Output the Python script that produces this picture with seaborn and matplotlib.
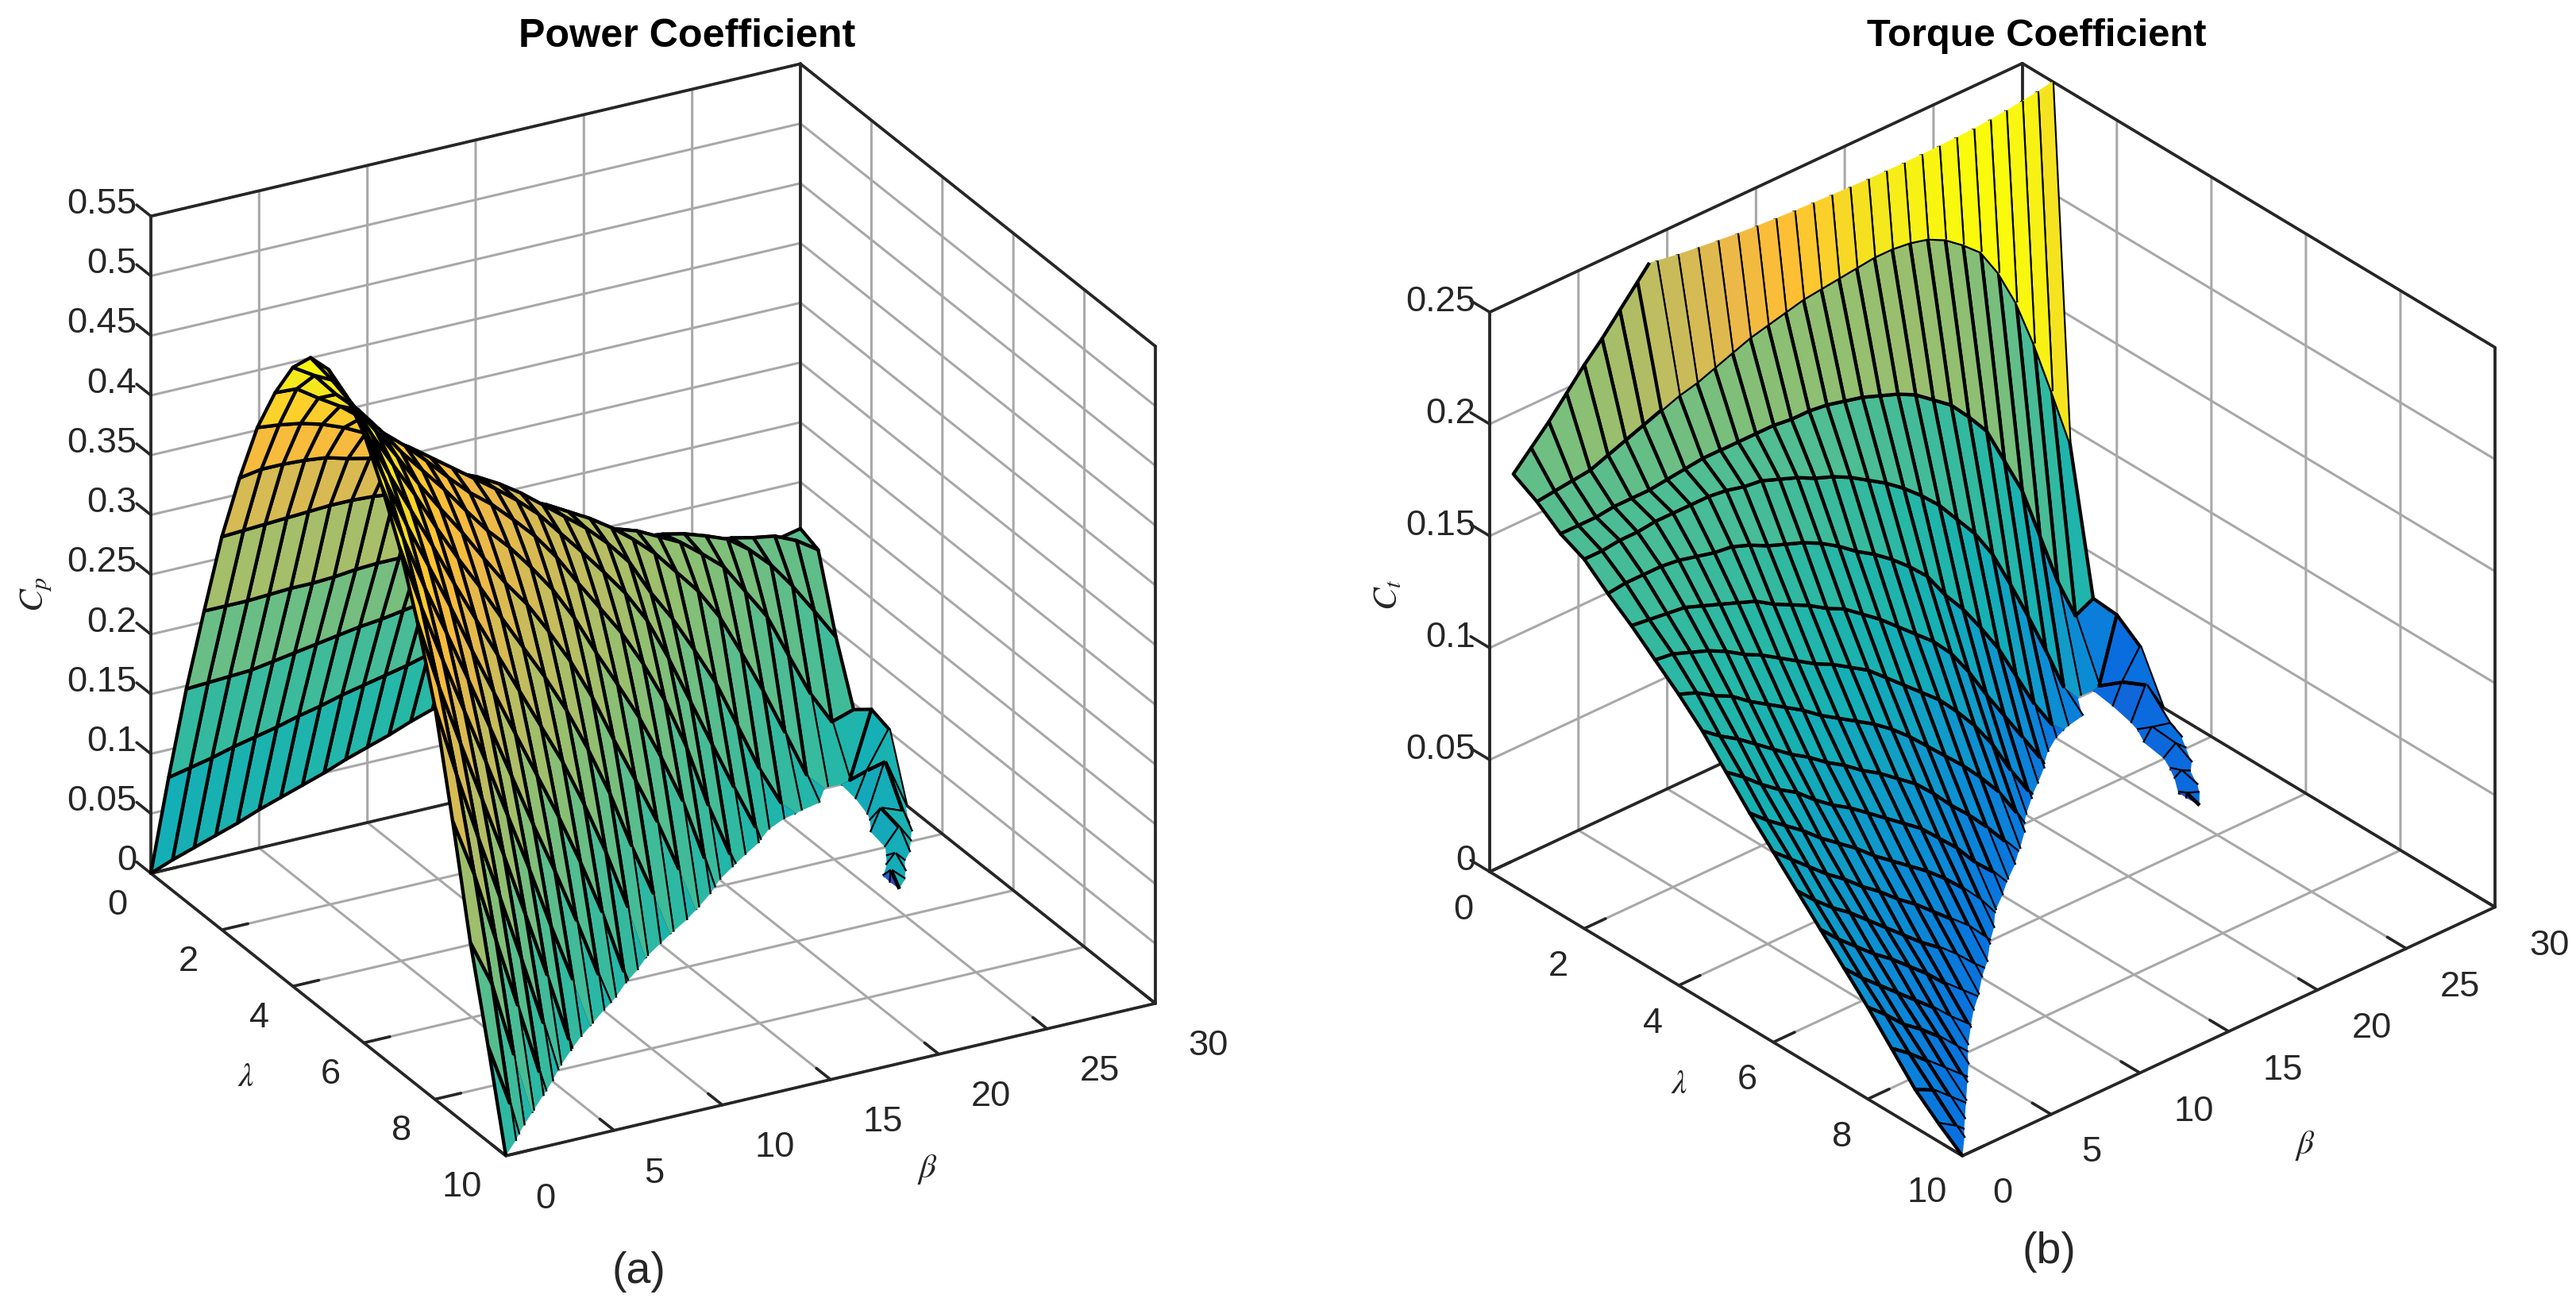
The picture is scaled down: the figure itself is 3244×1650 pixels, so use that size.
import numpy as np
import matplotlib
matplotlib.use("Agg")
import matplotlib.pyplot as plt
import seaborn as sns
from mpl_toolkits.mplot3d import proj3d
from mpl_toolkits.mplot3d.art3d import Poly3DCollection

beta = list(range(31))
lam_cp = [i * 0.5 for i in range(21)]
lam_ct = lam_cp[1:]

# Power coefficient, one list per beta, lambda = 0, 0.5 ... 10
cp_b00 = [0,.092,.178,.255,.329,.39,.444,.485,.518,.538,.54,.53,.51,.478,.439,.389,.329,.245,.155,.08,0]
cp_b01 = [.007,.096,.179,.255,.33,.393,.442,.484,.507,.515,.509,.492,.466,.43,.385,.33,.268,.196,.116,.028,-.06]
cp_b02 = [.013,.1,.18,.255,.331,.393,.439,.472,.487,.489,.477,.455,.424,.384,.336,.278,.211,.137,.053,-.04,-.13]
cp_b03 = [.019,.105,.181,.256,.332,.392,.434,.461,.47,.464,.447,.421,.386,.342,.289,.227,.157,.078,-.01,-.1,-.19]
cp_b04 = [.025,.109,.184,.257,.333,.39,.427,.447,.449,.438,.418,.387,.348,.299,.242,.176,.101,.018,-.07,-.16,-.25]
cp_b05 = [.032,.113,.187,.257,.334,.385,.418,.43,.426,.411,.386,.351,.307,.255,.193,.122,.043,-.04,-.13,-.22,-.3]
cp_b06 = [.038,.118,.19,.258,.334,.381,.409,.415,.406,.386,.356,.317,.268,.21,.144,.067,-.02,-.11,-.2,-.28,-.36]
cp_b07 = [.044,.122,.193,.26,.333,.377,.398,.398,.386,.362,.328,.283,.229,.165,.092,.009,-.08,-.17,-.26,-.34,-.42]
cp_b08 = [.05,.127,.196,.261,.331,.37,.385,.38,.364,.336,.298,.249,.19,.122,.043,-.05,-.14,-.23,-.31,-.39,-.47]
cp_b09 = [.057,.131,.198,.261,.328,.359,.372,.363,.343,.311,.269,.215,.151,.076,-.01,-.1,-.19,-.28,-.36,-.44,-.51]
cp_b10 = [.063,.135,.201,.261,.325,.352,.359,.349,.325,.289,.24,.181,.109,.027,-.06,-.15,-.24,-.33,-.41,-.49,-.56]
cp_b11 = [.069,.139,.204,.261,.32,.344,.346,.332,.304,.262,.208,.141,.063,-.02,-.12,-.21,-.3,-.38,-.46,-.54,-.61]
cp_b12 = [.076,.144,.207,.261,.314,.334,.332,.314,.281,.233,.171,.097,.009,-.08,-.18,-.27,-.35,-.43,-.51,-.58,-.65]
cp_b13 = [.082,.148,.209,.26,.306,.322,.316,.292,.253,.199,.13,.047,-.04,-.14,-.23,-.32,-.4,-.48,-.55,-.62,-.68]
cp_b14 = [.087,.152,.211,.26,.3,.308,.296,.266,.22,.159,.082,-.01,-.11,-.2,-.29,-.37,-.45,-.52,-.59,-.65,-.71]
cp_b15 = [.092,.155,.213,.258,.292,.294,.276,.241,.189,.121,.038,-.06,-.15,-.24,-.33,-.41,-.48,-.55,-.62,-.68,-.74]
cp_b16 = [.097,.159,.214,.255,.282,.28,.255,.216,.157,.082,-.01,-.1,-.19,-.28,-.36,-.44,-.51,-.58,-.64,-.7,-.76]
cp_b17 = [.102,.163,.215,.252,.272,.263,.233,.186,.12,.038,-.05,-.14,-.23,-.31,-.39,-.47,-.54,-.6,-.66,-.72,-.77]
cp_b18 = [.107,.166,.216,.248,.26,.243,.206,.151,.079,-.01,-.1,-.18,-.26,-.34,-.42,-.49,-.56,-.62,-.68,-.73,-.78]
cp_b19 = [.113,.17,.217,.243,.246,.213,.17,.108,.027,-.06,-.15,-.23,-.31,-.38,-.45,-.52,-.58,-.64,-.7,-.75,-.79]
cp_b20 = [.118,.172,.217,.237,.23,.187,.13,.055,-.03,-.12,-.2,-.27,-.34,-.41,-.48,-.54,-.6,-.66,-.71,-.76,-.8]
cp_b21 = [.122,.175,.216,.228,.21,.157,.09,.01,-.07,-.15,-.23,-.3,-.37,-.44,-.5,-.56,-.62,-.67,-.72,-.77,-.81]
cp_b22 = [.127,.177,.214,.219,.19,.125,.05,-.03,-.11,-.19,-.26,-.33,-.4,-.46,-.52,-.58,-.64,-.69,-.74,-.78,-.82]
cp_b23 = [.131,.179,.21,.205,.164,.085,.012,-.07,-.15,-.22,-.29,-.36,-.42,-.48,-.54,-.6,-.65,-.7,-.75,-.79,-.83]
cp_b24 = [.136,.181,.204,.19,.13,.045,-.04,-.11,-.19,-.26,-.32,-.38,-.44,-.5,-.56,-.61,-.66,-.71,-.76,-.8,-.84]
cp_b25 = [.14,.183,.197,.165,.094,.012,-.07,-.14,-.2,-.26,-.32,-.38,-.44,-.5,-.55,-.6,-.65,-.7,-.75,-.8,-.84]
cp_b26 = [.145,.182,.184,.14,.055,-.005,-.06,-.07,-.05,-.012,.01,-.012,-.06,-.12,-.2,-.3,-.4,-.5,-.6,-.7,-.8]
cp_b27 = [.149,.178,.167,.103,.015,-.006,-.03,-.02,-.008,.008,-.006,-.03,-.08,-.14,-.22,-.3,-.4,-.5,-.6,-.7,-.8]
cp_b28 = [.153,.175,.145,.067,-.003,-.02,-.01,.018,.014,-.01,-.03,-.06,-.1,-.16,-.24,-.32,-.42,-.52,-.62,-.72,-.82]
cp_b29 = [.157,.167,.12,.039,.002,.022,.041,.011,-.012,-.03,-.05,-.08,-.12,-.18,-.26,-.34,-.44,-.54,-.64,-.74,-.84]
cp_b30 = [.161,.155,.094,.045,.057,.052,-.002,-.03,-.05,-.07,-.09,-.12,-.16,-.2,-.28,-.36,-.46,-.56,-.66,-.76,-.86]

# Torque coefficient, one list per beta, lambda = 0.5 ... 10
ct_b00 = [.184,.178,.17,.165,.156,.148,.139,.13,.12,.108,.096,.085,.074,.063,.052,.041,.029,.017,.008,0]
ct_b01 = [.192,.179,.17,.165,.157,.147,.138,.127,.114,.102,.089,.078,.066,.055,.044,.034,.023,.013,.003,-.006]
ct_b02 = [.2,.18,.17,.166,.157,.146,.135,.122,.109,.095,.083,.071,.059,.048,.037,.026,.016,.006,-.004,-.013]
ct_b03 = [.209,.181,.171,.166,.157,.145,.132,.118,.103,.089,.077,.064,.053,.041,.03,.02,.009,-.001,-.011,-.019]
ct_b04 = [.218,.184,.171,.167,.156,.142,.128,.112,.097,.084,.07,.058,.046,.035,.023,.013,.002,-.008,-.017,-.025]
ct_b05 = [.226,.187,.171,.167,.154,.139,.123,.107,.091,.077,.064,.051,.039,.028,.016,.005,-.005,-.014,-.023,-.03]
ct_b06 = [.235,.19,.172,.167,.152,.136,.119,.102,.086,.071,.058,.045,.032,.021,.008,-.003,-.013,-.022,-.029,-.036]
ct_b07 = [.244,.193,.173,.167,.151,.133,.114,.097,.08,.066,.051,.038,.025,.013,.001,-.01,-.02,-.029,-.036,-.042]
ct_b08 = [.253,.196,.174,.166,.148,.128,.109,.091,.075,.06,.045,.032,.019,.006,-.007,-.018,-.027,-.034,-.041,-.047]
ct_b09 = [.262,.198,.174,.164,.144,.124,.104,.086,.069,.054,.039,.025,.012,-.001,-.013,-.024,-.033,-.04,-.046,-.051]
ct_b10 = [.27,.201,.174,.163,.141,.12,.1,.081,.064,.048,.033,.018,.004,-.009,-.02,-.03,-.039,-.046,-.052,-.056]
ct_b11 = [.278,.204,.174,.16,.138,.115,.095,.076,.058,.042,.026,.011,-.003,-.017,-.028,-.038,-.045,-.051,-.057,-.061]
ct_b12 = [.287,.207,.174,.157,.134,.111,.09,.07,.052,.034,.018,.002,-.012,-.026,-.036,-.044,-.051,-.057,-.061,-.065]
ct_b13 = [.295,.209,.173,.153,.129,.105,.083,.063,.044,.026,.009,-.007,-.022,-.033,-.043,-.05,-.056,-.061,-.065,-.068]
ct_b14 = [.303,.211,.173,.15,.123,.099,.076,.055,.035,.016,-.002,-.018,-.031,-.041,-.049,-.056,-.061,-.066,-.068,-.071]
ct_b15 = [.31,.213,.172,.146,.118,.092,.069,.047,.027,.008,-.011,-.025,-.037,-.047,-.055,-.06,-.065,-.069,-.072,-.074]
ct_b16 = [.317,.214,.17,.141,.112,.085,.062,.039,.018,-.002,-.018,-.032,-.043,-.051,-.059,-.064,-.068,-.071,-.074,-.076]
ct_b17 = [.325,.215,.168,.136,.105,.078,.053,.03,.008,-.01,-.025,-.038,-.048,-.056,-.063,-.068,-.071,-.073,-.076,-.077]
ct_b18 = [.332,.216,.165,.13,.097,.069,.043,.02,-.002,-.02,-.033,-.043,-.052,-.06,-.065,-.07,-.073,-.076,-.077,-.078]
ct_b19 = [.339,.217,.162,.123,.085,.057,.031,.007,-.013,-.03,-.042,-.052,-.058,-.064,-.069,-.073,-.075,-.078,-.079,-.079]
ct_b20 = [.344,.217,.158,.115,.075,.043,.016,-.008,-.027,-.04,-.049,-.057,-.063,-.069,-.072,-.075,-.078,-.079,-.08,-.08]
ct_b21 = [.35,.216,.152,.105,.063,.03,.003,-.018,-.033,-.046,-.055,-.062,-.068,-.071,-.075,-.078,-.079,-.08,-.081,-.081]
ct_b22 = [.354,.214,.146,.095,.05,.017,-.009,-.028,-.042,-.052,-.06,-.067,-.071,-.074,-.077,-.08,-.081,-.082,-.082,-.082]
ct_b23 = [.358,.21,.137,.082,.034,.004,-.02,-.038,-.049,-.058,-.065,-.07,-.074,-.077,-.08,-.081,-.082,-.083,-.083,-.083]
ct_b24 = [.362,.204,.127,.065,.018,-.013,-.031,-.048,-.058,-.064,-.069,-.073,-.077,-.08,-.081,-.083,-.084,-.084,-.084,-.084]
ct_b25 = [.366,.197,.11,.047,.005,-.023,-.04,-.05,-.058,-.064,-.069,-.073,-.077,-.08,-.081,-.083,-.084,-.084,-.084,-.084]
ct_b26 = [.364,.184,.093,.028,-.002,-.02,-.02,-.013,-.003,.002,-.002,-.01,-.018,-.029,-.04,-.05,-.059,-.067,-.074,-.08]
ct_b27 = [.356,.167,.069,.008,-.002,-.01,-.006,-.002,.002,-.001,-.005,-.013,-.022,-.029,-.038,-.047,-.056,-.063,-.074,-.08]
ct_b28 = [.35,.145,.045,-.002,-.008,-.003,.005,.004,-.002,-.006,-.011,-.017,-.025,-.032,-.04,-.049,-.058,-.065,-.076,-.082]
ct_b29 = [.334,.12,.026,.001,.009,.014,.003,-.003,-.007,-.01,-.015,-.02,-.028,-.035,-.043,-.052,-.06,-.071,-.078,-.084]
ct_b30 = [.31,.094,.03,.029,.021,-.001,-.009,-.013,-.016,-.018,-.022,-.027,-.031,-.037,-.045,-.054,-.062,-.069,-.08,-.086]

cp_cols = [cp_b00,cp_b01,cp_b02,cp_b03,cp_b04,cp_b05,cp_b06,cp_b07,cp_b08,cp_b09,cp_b10,cp_b11,cp_b12,cp_b13,cp_b14,cp_b15,
           cp_b16,cp_b17,cp_b18,cp_b19,cp_b20,cp_b21,cp_b22,cp_b23,cp_b24,cp_b25,cp_b26,cp_b27,cp_b28,cp_b29,cp_b30]
ct_cols = [ct_b00,ct_b01,ct_b02,ct_b03,ct_b04,ct_b05,ct_b06,ct_b07,ct_b08,ct_b09,ct_b10,ct_b11,ct_b12,ct_b13,ct_b14,ct_b15,
           ct_b16,ct_b17,ct_b18,ct_b19,ct_b20,ct_b21,ct_b22,ct_b23,ct_b24,ct_b25,ct_b26,ct_b27,ct_b28,ct_b29,ct_b30]

cp_zticks = [0,.05,.1,.15,.2,.25,.3,.35,.4,.45,.5,.55]
cp_zlabels = ['0','0.05','0.1','0.15','0.2','0.25','0.3','0.35','0.4','0.45','0.5','0.55']
ct_zticks = [0,.05,.1,.15,.2,.25]
ct_zlabels = ['0','0.05','0.1','0.15','0.2','0.25']
beta_ticks = [0,5,10,15,20,25,30]
lam_ticks = [0,2,4,6,8,10]

W, H = 3244, 1650
DPI = 200
DARK = '#262626'
TICK_FS = 16.3

sns.set_theme(style='white', font='Liberation Sans')
plt.rcParams.update({
    'font.family': ['Liberation Sans', 'DejaVu Sans'],
    'mathtext.fontset': 'stix',
    'grid.color': '#a8a8a8', 'grid.linewidth': 1.1,
    'axes.edgecolor': DARK, 'axes.linewidth': 1.3,
    'xtick.major.width': 1.3, 'ytick.major.width': 1.3,
    'xtick.color': DARK, 'ytick.color': DARK, 'text.color': DARK,
    'axes.labelcolor': DARK,
})
palette_stops = [(0.00,(.24,.15,.66)),(0.12,(.17,.30,.75)),(0.24,(.03,.43,.88)),(0.34,(.05,.56,.83)),
                 (0.45,(.08,.69,.71)),(0.52,(.15,.72,.65)),(0.60,(.30,.74,.58)),(0.68,(.55,.75,.45)),
                 (0.75,(.74,.74,.38)),(0.83,(.93,.72,.28)),(0.88,(1.0,.75,.20)),(0.95,(.96,.90,.12)),(1.00,(.98,.98,.05))]
parula = matplotlib.colors.LinearSegmentedColormap.from_list('parula_like', palette_stops, N=256)
sns.set_palette([parula(0.3), parula(0.7)])


def clip_poly(pts, zlo, zhi):
    for sign, lim in ((1, zlo), (-1, zhi)):
        out = []
        n = len(pts)
        for i in range(n):
            p, q = pts[i], pts[(i + 1) % n]
            dp, dq = sign * (p[2] - lim), sign * (q[2] - lim)
            if dp >= 0:
                out.append(p)
            if dp * dq < 0:
                t = dp / (dp - dq)
                out.append(tuple(p[k] + t * (q[k] - p[k]) for k in range(3)))
        pts = out
        if not pts:
            return []
    return pts


def clip_seg(p, q, zlo, zhi):
    t0, t1 = 0.0, 1.0
    dz = q[2] - p[2]
    if dz == 0:
        return (p, q) if zlo <= p[2] <= zhi else None
    ta, tb = (zlo - p[2]) / dz, (zhi - p[2]) / dz
    t0, t1 = max(t0, min(ta, tb)), min(t1, max(ta, tb))
    if t0 >= t1:
        return None
    f = lambda t: tuple(p[k] + t * (q[k] - p[k]) for k in range(3))
    return f(t0), f(t1)


def surface(ax, xs, ys, cols, zmax, vmin, vmax):
    norm = plt.Normalize(vmin, vmax)
    polys, faces, edges = [], [], []
    none = (0, 0, 0, 0)
    black = (0, 0, 0, 1)
    for i in range(len(xs) - 1):
        for j in range(len(ys) - 1):
            q = [(xs[i], ys[j], cols[i][j]), (xs[i + 1], ys[j], cols[i + 1][j]),
                 (xs[i + 1], ys[j + 1], cols[i + 1][j + 1]), (xs[i], ys[j + 1], cols[i][j + 1])]
            zz = [c[2] for c in q]
            color = parula(norm(cols[i][j]))
            if min(zz) >= 0 and max(zz) <= zmax:
                polys.append(q); faces.append(color); edges.append(black)
                continue
            cl = clip_poly(q, 0.0, zmax)
            if len(cl) < 3:
                continue
            polys.append(cl); faces.append(color); edges.append(none)
            for k in range(4):
                s = clip_seg(q[k], q[(k + 1) % 4], 0.0, zmax)
                if s is not None:
                    polys.append(list(s)); faces.append(none); edges.append(black)
    pc = Poly3DCollection(polys, facecolors=faces, edgecolors=edges, linewidths=1.55, zsort='average', zorder=5)
    ax.add_collection3d(pc, autolim=False)


def style_axes(ax, zmax, zticks):
    ax.computed_zorder = False
    ax.set_proj_type('ortho')
    ax.set_xlim(0, 30, view_margin=0)
    ax.set_ylim(10, 0, view_margin=0)
    ax.set_zlim(0, zmax, view_margin=0)
    ax.set_xticks(beta_ticks)
    ax.set_yticks(lam_ticks)
    ax.set_zticks(zticks)
    ax.set_xticklabels([''] * len(beta_ticks))
    ax.set_yticklabels([''] * len(lam_ticks))
    ax.set_zticklabels([''] * len(zticks))
    ax.zaxis._get_tickdir = lambda position: 1
    for axis in (ax.xaxis, ax.yaxis, ax.zaxis):
        axis.set_pane_color((1, 1, 1, 0))
        axis.pane.set_edgecolor((1, 1, 1, 0))
        axis.line.set_color((1, 1, 1, 0))
        axis._axinfo['tick']['inward_factor'] = 0.0
        axis._axinfo['tick']['outward_factor'] = 0.5
        axis._axinfo['tick']['color'] = DARK
    ax.grid(True)
    ax.patch.set_alpha(0)
    # box outline, over the grid lines that lie on the limits and under the surface
    box = [((0,30),(0,0),(0,0)), ((0,30),(10,10),(0,0)), ((0,0),(0,10),(0,0)), ((30,30),(0,10),(0,0)),
           ((0,0),(0,0),(0,zmax)), ((30,30),(0,0),(0,zmax)), ((30,30),(10,10),(0,zmax)),
           ((0,30),(0,0),(zmax,zmax)), ((30,30),(0,10),(zmax,zmax))]
    for xx, yy, zz in box:
        ax.plot(xx, yy, zz, color=DARK, lw=1.35, zorder=2, solid_capstyle='round')


def project(ax, x, y, z):
    a, b, _ = proj3d.proj_transform(x, y, z, ax.get_proj())
    return ax.transData.transform((a, b))


def fit(ax, left, right):
    """Place the axes so that the two floor corners land on the wanted pixels."""
    ax.apply_aspect()
    l0, r0 = project(ax, 0, 0, 0), project(ax, 30, 10, 0)
    s = (right[0] - left[0]) / (r0[0] - l0[0])
    p = ax.get_position()
    ax.set_position([p.x0, p.y0, p.width * s, p.height * s])
    ax.apply_aspect()
    l1 = project(ax, 0, 0, 0)
    p = ax.get_position()
    ax.set_position([p.x0 + (left[0] - l1[0]) / W, p.y0 + ((H - left[1]) - l1[1]) / H, p.width, p.height])
    ax.apply_aspect()


def tick_text(ax, zmax_ticks, zlabels, lam1, lam2, bet1, bet2, zoff):
    for v in lam_ticks:
        p = project(ax, 0, v, 0)
        dx, dy = lam2 if v >= 10 else lam1
        fig.text((p[0] + dx) / W, (p[1] - dy) / H, str(v), ha='center', va='center', fontsize=TICK_FS)
    for v in beta_ticks:
        p = project(ax, v, 10, 0)
        dx, dy = bet2 if v >= 10 else bet1
        fig.text((p[0] + dx) / W, (p[1] - dy) / H, str(v), ha='center', va='center', fontsize=TICK_FS)
    for v, s in zip(zmax_ticks, zlabels):
        p = project(ax, 0, 0, v)
        fig.text((p[0] + zoff[0]) / W, (p[1] - zoff[1]) / H, s, ha='right', va='center', fontsize=TICK_FS)


fig = plt.figure(figsize=(W / DPI, H / DPI), dpi=DPI, facecolor='white')

ax1 = fig.add_axes([0.05, 0.1, 0.4, 0.4 * W / H], projection='3d')
ax1.view_init(elev=25.6, azim=-118.5)
ax1.set_box_aspect((931, 937, 918))
style_axes(ax1, 0.55, cp_zticks)
surface(ax1, beta, lam_cp, cp_cols, 0.55, -0.43, 0.53)
fit(ax1, (190, 1100), (1455, 1263))
tick_text(ax1, cp_zticks, cp_zlabels, (-42, 40), (-55, 40), (50, 55), (66, 54), (-18, -15))

ax2 = fig.add_axes([0.55, 0.1, 0.4, 0.4 * W / H], projection='3d')
ax2.view_init(elev=32.0, azim=-131.4)
ax2.set_box_aspect((894, 900, 831))
style_axes(ax2, 0.25, ct_zticks)
surface(ax2, beta, lam_ct, ct_cols, 0.25, -0.11, 0.36)
fit(ax2, (1876, 1098), (3142, 1142))
tick_text(ax2, ct_zticks, ct_zlabels, (-33, 48), (-45, 47), (51, 48), (68, 49), (-18, -13))


def label(x, y, s, **kw):
    fig.text(x / W, 1 - y / H, s, ha='center', va='center', **kw)


label(865, 46, 'Power Coefficient', fontsize=18.1, fontweight='bold', color='black')
label(2565, 46, 'Torque Coefficient', fontsize=17.6, fontweight='bold', color='black')
label(310, 1357, r'$\lambda$', fontsize=15.5)
label(1168, 1473, r'$\beta$', fontsize=15.5)
label(46, 749, r'$C_p$', fontsize=15.5, rotation=90)
label(2115, 1366, r'$\lambda$', fontsize=15.5)
label(2903, 1443, r'$\beta$', fontsize=15.5)
label(1748, 749, r'$C_t$', fontsize=15.5, rotation=90)
label(804, 1602, '(a)', fontsize=20)
label(2580, 1577, '(b)', fontsize=20)

fig.savefig('out.png', dpi=DPI)
